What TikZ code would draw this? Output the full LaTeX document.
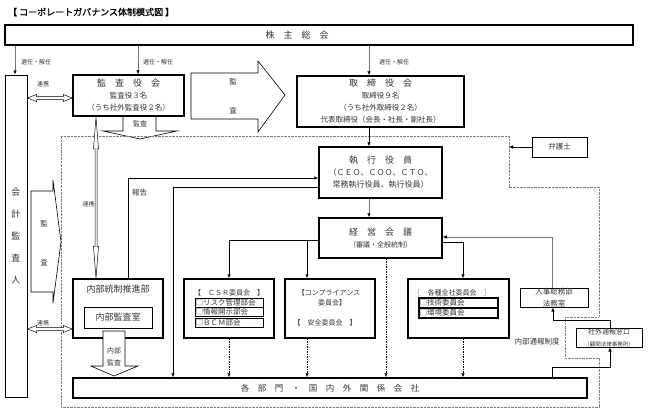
\documentclass[tikz,border=0pt]{standalone}
\usepackage{fontspec}
\setmainfont{Noto Sans CJK JP}
\newfontfamily\titlefont{Noto Sans CJK JP}[FakeBold=1.2]
\usetikzlibrary{arrows.meta,calc}
\newcommand\szL{\fontsize{9}{10.5}\selectfont}
\newcommand\szM{\fontsize{7.5}{10}\selectfont}
\newcommand\szN{\fontsize{7}{9}\selectfont}
\newcommand\szS{\fontsize{6}{8}\selectfont}
\newcommand\szT{\fontsize{5.5}{6}\selectfont}
\newcommand\hdbl[2]{\draw[dbl] let \p1=(#1), \p2=(#2) in
  (\x1,\y2) -- (\x1+9pt,\y2+3.5pt) -- (\x1+9pt,\y2+1.5pt) -- (\x2-9pt,\y2+1.5pt) -- (\x2-9pt,\y2+3.5pt)
  -- (\x2,\y2) -- (\x2-9pt,\y2-3.5pt) -- (\x2-9pt,\y2-1.5pt) -- (\x1+9pt,\y2-1.5pt) -- (\x1+9pt,\y2-3.5pt) -- cycle;}
\newcommand\vdbl[2]{\draw[dbl] let \p1=(#1), \p2=(#2) in
  (\x1,\y1) -- (\x1+2.5pt,\y1-32pt) -- (\x1+1pt,\y1-32pt) -- (\x1+1pt,\y2+32pt) -- (\x1+2.5pt,\y2+32pt)
  -- (\x1,\y2) -- (\x1-2.5pt,\y2+32pt) -- (\x1-1pt,\y2+32pt) -- (\x1-1pt,\y1-32pt) -- (\x1-2.5pt,\y1-32pt) -- cycle;}
\begin{document}
\begin{tikzpicture}[x=1pt,y=-1pt,
  bx/.style={draw, line width=0.8pt, fill=white, inner sep=0pt, align=center, text=black!80},
  bxT/.style={bx, line width=1.5pt},
  lbl/.style={inner sep=0pt, text=black!80, align=center},
  arr/.style={-{Latex[length=4pt,width=3.5pt]}, line width=0.6pt},
  arrG/.style={-{Latex[length=4pt,width=3.5pt,color=black]}, line width=0.7pt, draw=black!55},
  dl/.style={dash pattern=on 1.5pt off 1pt},
  dotr/.style={draw=black!50, line width=0.9pt, dash pattern=on 0.8pt off 0.6pt},
  blk/.style={draw, line width=0.6pt, fill=white, line join=miter},
  dbl/.style={draw, line width=0.5pt, fill=white}]
\useasboundingbox (0,0) rectangle (648,413);

% title
\node[lbl, anchor=west, text=black] (title) at (8,12) {\titlefont\fontsize{9}{10}\selectfont 【 コーポレートガバナンス体制模式図 】};

% audit arrow below 監査役会 (tip hidden by dotted frame)
\draw[blk] (123,116) -- (123,131) -- (103,131) -- (140,139) -- (177,131) -- (156,131) -- (156,116);
\node[lbl] (kansaA) at (140,124) {\szN 監査};

% dotted frame
\draw[dotr] (61,136) -- (509,136) -- (509,187) -- (599,187) -- (599,317) -- (565,317) -- (565,358)
  -- (599,358) -- (599,407) -- (61,407) -- cycle;

% main boxes
\node[bxT, line width=1.8pt, minimum width=628pt, minimum height=20pt] (kabu) at (319,35) {\szL 株　主　総　会\hspace{44pt}};
\node[bx, line width=1pt, minimum width=22pt, minimum height=322pt] (kaikei) at (16,236)
  {\szL 会\\[10pt]\szL 計\\[10pt]\szL 監\\[10pt]\szL 査\\[10pt]\szL 人};
\node[bxT, minimum width=111pt, minimum height=41pt] (kansa) at (128.5,95.5)
  {\szL 監　査　役　会\\\szM 監査役３名\\\szM （うち社外監査役２名）};
\node[bxT, minimum width=167pt, minimum height=51pt] (tori) at (380.5,101.5)
  {\szL 取　締　役　会\\\szM 取締役９名\\\szM （うち社外取締役２名）\\\szM 代表取締役（会長・社長・副社長）};
\node[bxT, minimum width=123pt, minimum height=51pt] (shikko) at (380.5,172.5)
  {\szL 執　行　役　員\\\fontsize{8}{10}\selectfont （ＣＥＯ、ＣＯＯ、ＣＴＯ、\\\fontsize{8}{10}\selectfont 常務執行役員、執行役員）\hspace{14pt}};
\node[bxT, minimum width=123pt, minimum height=40pt] (keiei) at (380.5,238)
  {\szL 経　営　会　議\\\szN （審議・全般統制）};
\node[bx, minimum width=55pt, minimum height=20pt] (ben) at (559.5,147) {\szM 弁護士};

% big audit arrow
\draw[blk] (191,73) -- (258,73) -- (258,61) -- (285,95) -- (258,132) -- (258,119) -- (191,119) -- cycle;
\node[lbl] (bk1) at (233,82) {\szM 監};
\node[lbl] (bk2) at (233,111) {\szM 査};

% accounting auditor audit arrow
\draw[blk] (31,191) -- (53,191) -- (53,180) -- (61,242) -- (53,303) -- (53,292) -- (31,292) -- cycle;
\node[lbl] (ka1) at (44,224) {\szM 監};
\node[lbl] (ka2) at (44,263) {\szM 査};

% internal control
\node[bxT, minimum width=90pt, minimum height=59pt] (naibu) at (118,308.5) {};
\node[lbl] (naibuT) at (118,289) {\szL 内部統制推進部};
\node[bx, minimum width=68pt, minimum height=21pt] (naikan) at (118,317.5) {\szL 内部監査室};
\draw[blk] (103,331) -- (125,331) -- (125,366) -- (138,366) -- (114,376) -- (91,366) -- (103,366) -- cycle;
\node[lbl] (nkA) at (114,356.5) {\szN 内部\\\szN 監査};

% CSR
\node[bxT, minimum width=90pt, minimum height=59pt] (csr) at (229,308.5) {};
\node[lbl] (csrT) at (229,293) {\szN 【　ＣＳＲ委員会　】};
\node[bx, line width=0.6pt, minimum height=9pt, text width=67pt, align=left, inner xsep=0.5pt] (cr1) at (229,302.5) {\fontsize{7.5}{8}\selectfont □リスク管理部会};
\node[bx, line width=0.6pt, minimum height=9pt, text width=67pt, align=left, inner xsep=0.5pt] (cr2) at (229,311.5) {\fontsize{7.5}{8}\selectfont □情報開示部会};
\node[bx, line width=0.6pt, minimum height=9pt, text width=67pt, align=left, inner xsep=0.5pt] (cr3) at (229,322.5) {\fontsize{7.5}{8}\selectfont □ＢＣＭ部会};

% compliance
\node[bxT, minimum width=90pt, minimum height=59pt] (comp) at (330,308.5) {};
\node[lbl] (compT1) at (329,293) {\szN 【コンプライアンス};
\node[lbl] (compT2) at (332,303) {\szN 委員会】};
\node[lbl] (compT3) at (325,323) {\szN 【　安全委員会　】};

% company-wide committees
\node[bxT, minimum width=101pt, minimum height=59pt] (kaku) at (458.5,308.5) {};
\node[lbl] (kakuT) at (452,293) {\szN {\color{black!45}［}　各種全社委員会　{\color{black!45}］}};
\node[bx, line width=1.3pt, minimum height=10pt, text width=78pt, align=left, inner xsep=0.5pt] (kk1) at (458.5,303) {\fontsize{7.5}{8}\selectfont □技術委員会};
\node[bx, line width=1.3pt, minimum height=10pt, text width=78pt, align=left, inner xsep=0.5pt] (kk2) at (458.5,313) {\fontsize{7.5}{8}\selectfont □環境委員会};

% whistleblowing
\node[bx, line width=1pt, minimum width=68pt, minimum height=19pt] (jinji) at (554,297.5)
  {\fontsize{7.5}{9}\selectfont 人事総務部\\\fontsize{7.5}{9}\selectfont 法務室};
\node[bx, line width=1pt, minimum width=66pt, minimum height=19pt] (sg) at (609,337.5)
  {\fontsize{7}{8.5}\selectfont 社外通報窓口\\\szT （顧問法律事務所）};
\node[lbl] (ntsu) at (537,342) {\szM 内部通報制度};

% all departments
\node[bxT, minimum width=514pt, minimum height=20pt] (kakubu) at (330,388)
  {\fontsize{8.5}{10}\selectfont 各　部　門　・　国　内　外　関　係　会　社};

% labels
\node[lbl] (s1) at (36,62) {\szS 選任・解任};
\node[lbl] (s2) at (158,62) {\szS 選任・解任};
\node[lbl] (s3) at (394,62) {\szS 選任・解任};
\node[lbl] (rk1) at (43,84) {\szS 連携};
\node[lbl] (rk2) at (43,323) {\szS 連携};
\node[lbl] (rk3) at (88.5,204) {\szS 連携};
\node[lbl] (hk) at (139.5,193) {\szM 報告};

% connectors from shareholders
\coordinate (a1) at ([xshift=-1pt]kaikei.north);
\draw[arrG] (a1 |- kabu.south) -- (a1);
\coordinate (a2) at ([xshift=9.5pt]kansa.north);
\draw[arrG] (a2 |- kabu.south) -- (a2);
\coordinate (a3) at ([xshift=-11.5pt]tori.north);
\draw[arrG] (a3 |- kabu.south) -- (a3);

% double arrows
\hdbl{kaikei.east}{[yshift=-2.5pt]kansa.west}
\hdbl{kaikei.east}{[yshift=-20.5pt]naibu.west}
\vdbl{[xshift=-32.5pt]kansa.south}{[xshift=-22pt]naibu.north}

% vertical chain
\coordinate (a4) at ([xshift=-11.5pt]tori.south);
\draw[arr] (a4) -- (a4 |- shikko.north);
\coordinate (a5) at ([xshift=-11.5pt]shikko.south);
\draw[arrG] (a5) -- (a5 |- keiei.north);
\coordinate (a6) at ([xshift=5.5pt]keiei.south);
\draw[arr, dl] (a6) -- (a6 |- kakubu.north);

% management meeting to committees
\coordinate (a7) at ([yshift=-2pt]keiei.west);
\draw[arr] (a7) -| (csr.north);
\coordinate (a8) at ([xshift=-23pt]comp.north);
\draw[arr] (a8 |- a7) -- (a8);
\coordinate (a9) at ([yshift=-4pt]keiei.east);
\coordinate (a10) at ([xshift=4.5pt]kaku.north);
\draw[arr] (a9) -| (a10);
\coordinate (a11) at ([yshift=1pt]keiei.east);
\coordinate (a12) at ([xshift=-2pt]jinji.north);
\draw[arrG] (a12) |- (a11);

% committees to departments
\draw[arr, dl] (csr.south) -- (csr.south |- kakubu.north);
\coordinate (a13) at ([xshift=-23pt]comp.south);
\draw[arr, dl] (a13) -- (a13 |- kakubu.north);
\coordinate (a14) at ([xshift=4.5pt]kaku.south);
\draw[arr, dl] (a14) -- (a14 |- kakubu.north);

% report and execution lines
\coordinate (a15) at ([xshift=10pt]naibu.north);
\coordinate (a16) at ([yshift=-5.5pt]shikko.west);
\draw[arr] (a15) |- (a16);
\coordinate (a17) at ([yshift=-14.5pt]shikko.west);
\coordinate (a18) at ([xshift=-157pt]kakubu.north);
\draw[arr] (a17) -| (a18);

% lawyer
\coordinate (dR) at (509,147);
\draw[arr] (ben.west) -- (dR);

% whistleblowing lines
\coordinate (a19) at ([xshift=1pt]sg.north);
\coordinate (a20) at ([xshift=-1pt]jinji.south);
\draw[arr] (a19) -- ++(0,-7) -| (a20);
\coordinate (a21) at ([xshift=222pt]kakubu.north);
\coordinate (a22) at ([xshift=1pt]sg.south);
\draw[arr] (a21) -- ++(0,-10) -| (a22);
\end{tikzpicture}
\end{document}
